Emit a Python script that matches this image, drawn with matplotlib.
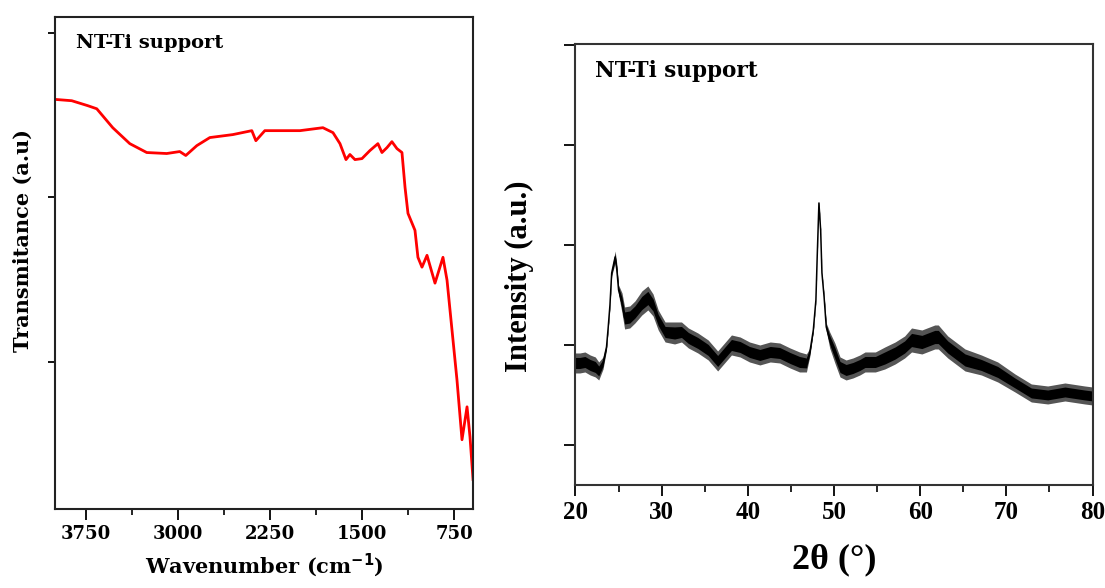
import matplotlib
matplotlib.use("Agg")
import matplotlib.pyplot as plt
from matplotlib.ticker import MultipleLocator

# FTIR spectrum of the NT-Ti support (left panel)
ftir_wavenumber = [4000, 3864, 3734, 3660, 3530, 3391, 3253, 3090, 2984, 2935,
                   2845, 2739, 2552, 2397, 2364, 2291, 2005, 1818, 1736, 1679,
                   1630, 1598, 1557, 1500, 1435, 1370, 1337, 1296, 1256, 1215,
                   1174, 1149, 1125, 1068, 1044, 1011, 970, 905, 840, 807,
                   726, 685, 644, 620, 595]
ftir_transmittance = [2.596, 2.588, 2.558, 2.539, 2.424, 2.327, 2.273, 2.267, 2.279, 2.255,
                      2.315, 2.364, 2.382, 2.406, 2.345, 2.406, 2.406, 2.424, 2.394, 2.327,
                      2.230, 2.261, 2.230, 2.236, 2.285, 2.327, 2.273, 2.303, 2.339, 2.297,
                      2.273, 2.061, 1.903, 1.800, 1.636, 1.576, 1.648, 1.479, 1.636, 1.497,
                      0.891, 0.527, 0.727, 0.545, 0.285]
ftir_xticks = [3750, 3000, 2250, 1500, 750]

# XRD pattern (right panel): trace centre and noise spread
xrd_2theta = [20.0, 20.5, 21.1, 21.7, 22.3, 22.7, 23.2, 23.6, 23.8, 24.0,
              24.2, 24.6, 24.8, 25.0, 25.4, 25.7, 26.3, 26.9, 27.7, 28.4,
              29.0, 29.6, 30.4, 31.5, 32.3, 33.1, 34.2, 35.4, 36.5, 36.9,
              38.1, 39.1, 40.2, 41.4, 42.6, 43.7, 44.9, 46.0, 46.8, 47.2,
              47.6, 47.9, 48.05, 48.25, 48.45, 48.6, 48.85, 49.1, 49.5, 50.1,
              50.7, 51.4, 52.2, 53.0, 53.6, 54.8, 55.9, 57.1, 58.2, 59.0,
              60.2, 61.4, 61.7, 62.1, 63.2, 65.2, 67.1, 69.0, 71.0, 72.9,
              74.8, 76.8, 79.1, 80.0]
xrd_intensity = [82, 82, 83, 80, 78, 74, 82, 98, 118, 140,
                 172, 188, 175, 155, 142, 127, 128, 133, 142, 147,
                 140, 125, 113, 112, 113, 107, 102, 95, 84, 88,
                 100, 98, 93, 90, 93, 92, 87, 83, 82, 93,
                 115, 145, 188, 242, 215, 172, 148, 118, 105, 92,
                 78, 75, 77, 80, 83, 83, 87, 92, 98, 105,
                 103, 107, 108, 108, 98, 85, 80, 73, 62, 52,
                 50, 53, 50, 49]
xrd_noise = [10, 10, 10, 10, 10, 9, 6, 3, 2, 2,
             3, 6, 6, 5, 10, 11, 11, 11, 12, 12,
             11, 10, 10, 11, 10, 10, 10, 10, 10, 10,
             10, 10, 10, 10, 10, 10, 10, 10, 9, 4,
             2, 1, 1, 2, 1, 1, 2, 4, 8, 10,
             10, 10, 10, 10, 10, 10, 11, 11, 11, 12,
             12, 12, 12, 12, 11, 11, 10, 10, 9, 9,
             9, 9, 9, 9]

cambria_like = "DejaVu Serif"
times_like = "Liberation Serif"

fig = plt.figure(figsize=(11.05, 5.88), dpi=100)

# ---- left: FTIR ----
ax1 = fig.add_axes([0.0498, 0.1344, 0.3783, 0.8367])
ax1.plot(ftir_wavenumber, ftir_transmittance, color="red", lw=2)
ax1.set_xlim(4000, 595)
ax1.set_ylim(0.106, 3.097)
ax1.set_xticks(ftir_xticks)
ax1.xaxis.set_minor_locator(MultipleLocator(375))
ax1.set_yticks([1, 2, 3])
ax1.set_yticklabels([])
ax1.tick_params(which="major", direction="out", length=8, width=1.3)
ax1.tick_params(axis="y", which="major", length=5)
ax1.tick_params(which="minor", direction="out", length=4, width=1.2)
for lab in ax1.get_xticklabels():
    lab.set_fontfamily(cambria_like)
    lab.set_fontweight("bold")
    lab.set_fontsize(13)
for s in ax1.spines.values():
    s.set_linewidth(1.5)
    s.set_color("#222222")
ax1.set_xlabel("Wavenumber (cm$^{\\mathbf{-1}}$)", family=cambria_like,
               fontweight="bold", fontsize=15, labelpad=6)
ax1.set_ylabel("Transmitance (a.u)", family=cambria_like,
               fontweight="bold", fontsize=15)
ax1.yaxis.set_label_coords(-0.053, 0.545)
ax1.text(0.05, 0.965, "NT-Ti support", transform=ax1.transAxes,
         family=cambria_like, fontweight="bold", fontsize=14, va="top")

# ---- right: XRD ----
ax2 = fig.add_axes([0.5208, 0.1752, 0.4679, 0.7495])
outer_lo = [c - n for c, n in zip(xrd_intensity, xrd_noise)]
outer_hi = [c + n for c, n in zip(xrd_intensity, xrd_noise)]
inner_lo = [c - 0.55 * n for c, n in zip(xrd_intensity, xrd_noise)]
inner_hi = [c + 0.55 * n for c, n in zip(xrd_intensity, xrd_noise)]
ax2.fill_between(xrd_2theta, outer_lo, outer_hi, color="#555555", lw=0)
ax2.fill_between(xrd_2theta, inner_lo, inner_hi, color="black", lw=0)
ax2.plot(xrd_2theta, xrd_intensity, color="black", lw=1.1)
ax2.set_xlim(20, 80)
ax2.set_ylim(-40, 400.7)
ax2.set_xticks(range(20, 81, 10))
ax2.xaxis.set_minor_locator(MultipleLocator(5))
ax2.set_yticks([0, 100, 200, 300, 400])
ax2.set_yticklabels([])
ax2.tick_params(which="major", direction="out", length=8, width=1.3)
ax2.tick_params(which="minor", direction="out", length=5, width=1.2)
for lab in ax2.get_xticklabels():
    lab.set_fontfamily(times_like)
    lab.set_fontweight("bold")
    lab.set_fontsize(18)
for s in ax2.spines.values():
    s.set_linewidth(1.5)
    s.set_color("#333333")
ax2.set_xlabel("2θ (°)", family=times_like, fontweight="bold", fontsize=26, labelpad=14)
ax2.set_ylabel("Intensity (a.u.)", family=times_like, fontweight="bold", fontsize=22)
ax2.yaxis.set_label_coords(-0.08, 0.474)
ax2.text(0.038, 0.965, "NT-Ti support", transform=ax2.transAxes,
         family=cambria_like, fontweight="bold", fontsize=15.5, va="top")

fig.savefig("out.png", dpi=100)
